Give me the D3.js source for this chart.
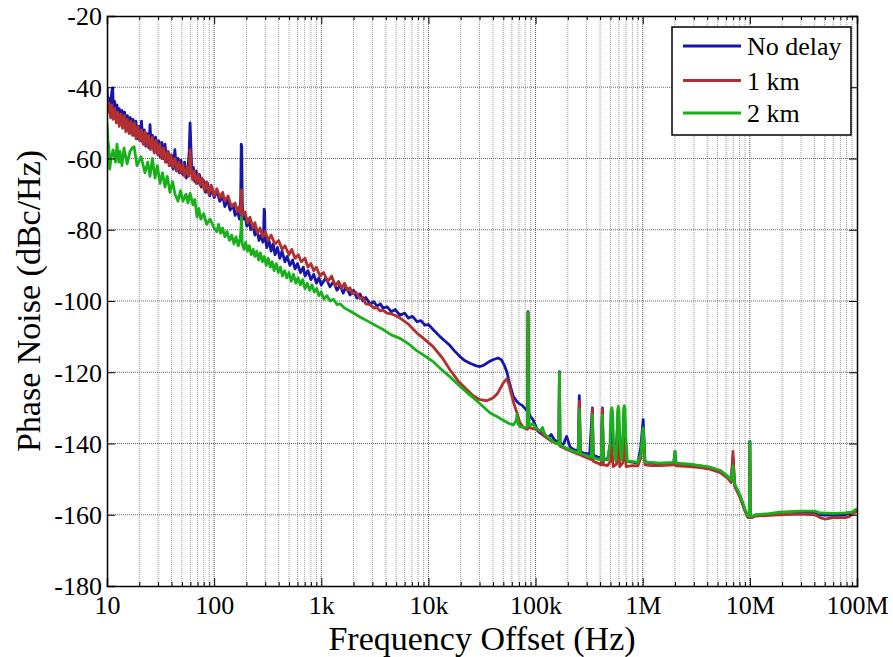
<!DOCTYPE html>
<html><head><meta charset="utf-8">
<script src="https://cdn.jsdelivr.net/npm/d3@7"></script>
<style>body{margin:0;background:#fff}</style>
</head><body>
<svg id="c" width="893" height="657"></svg>
<script>
const seriesNames = ["No delay", "1 km", "2 km"];
const seriesColors = ["#1616aa", "#b33030", "#19b019"];
const yTickValues = [-20, -40, -60, -80, -100, -120, -140, -160, -180];
const xTickValues = [10, 100, 1e3, 1e4, 1e5, 1e6, 1e7, 1e8];
const xTickLabels = ["10", "100", "1k", "10k", "100k", "1M", "10M", "100M"];
const xLabel = "Frequency Offset (Hz)";
const yLabel = "Phase Noise (dBc/Hz)";

// [frequency Hz, dBc/Hz]
const noDelay = [
[10,-40],[10.2,-46],[10.4,-43],[10.6,-47],[10.9,-44],[11.1,-41],[11.3,-40.2],[11.5,-47],[11.8,-44],[12.1,-48.5],[12.4,-45],[12.7,-49],[13.0,-46],[13.4,-50],[13.8,-46.5],[14.2,-50.5],[14.6,-47],[15.0,-51.5],[15.5,-48],[16.0,-52],[16.5,-48.5],[17.0,-53],[17.5,-49],[18.0,-53.5],[18.6,-49.5],[19.2,-54.5],[19.8,-51],[20.5,-55],[21,-49.5],[21.6,-55.5],[22.3,-52],[23,-56.5],[23.8,-53],[24.6,-57],[25.2,-50.5],[25.8,-56],[26.6,-53.5],[27.5,-58],[28.4,-54],[29.4,-58.5],[30.4,-55],[31.4,-59.5],[32.5,-55.5],[33.6,-60],[34.8,-56],[36,-61],[37.2,-58],[38.5,-62],[40,-59],[41.5,-63],[43,-57.5],[44.5,-63.5],[46,-60],[47.5,-64],[49,-60.5],[51,-64.5],[53,-61],[55,-65.5],[57,-63],[58.5,-58],[59.6,-50],[60.6,-56],[62,-64],[64,-62.5],[66,-66.5],[68,-63.5],[70,-67],[73,-64.5],[76,-68],[79,-66],[83,-69.5],[87,-67],[91,-70.5],[95,-68],[100,-71],
[106,-69],[113,-72],[120,-70.5],[126,-73.5],[133,-71.5],[141,-74.5],[150,-73],[157,-76],[165,-74.5],[172,-77],[177,-71],[179,-56],[181,-56.5],[183,-72],[187,-77],[194,-76],[202,-79],[210,-77],[220,-80],[230,-78.5],[240,-81.5],[252,-80],[262,-83],[275,-81.5],[285,-83.5],[290,-80],[293,-74.2],[296,-75],[299,-82],[310,-85],[325,-83],[340,-86],[355,-84],[370,-87],[390,-85],[410,-88],[430,-86],[458,-89],[480,-87.5],[510,-90],[540,-88.5],[569,-91],[600,-89.5],[640,-92],[680,-90.5],[705,-93],[750,-91.5],[800,-94],[850,-92.5],[900,-95],[950,-93.5],[1000,-95.5],
[1100,-93.5],[1205,-96],[1300,-94.5],[1400,-97],[1495,-95.5],[1600,-97.8],[1700,-96],[1853,-98.3],[2000,-97],[2150,-99.2],[2297,-98],[2450,-100],[2600,-99],[2850,-100.8],[3100,-100.2],[3300,-101.5],[3550,-100.8],[3770,-102],[4100,-101.6],[4500,-103],[4900,-102.4],[5430,-104],[6000,-103.4],[6500,-104.8],[7100,-104.3],[7820,-105.8],[8500,-105.5],[9300,-106.8],[10000,-106.6],[11040,-108],[12830,-110],[14000,-111],[15890,-112.5],[17500,-114],[19700,-115.6],[22000,-116.8],[25000,-117.6],[28000,-118.2],[30300,-118.4],[33000,-118],[36000,-117.2],[40000,-116.5],[44600,-116],[48000,-116.5],[51000,-118],[54100,-120],[57000,-123],[61500,-126.5],[66000,-128],[70000,-128.8],[75000,-129.3],[80000,-130.2],[84000,-131],[85000,-103],[86500,-131.5],[90000,-132.5],[94600,-133.3],[100000,-135],[105000,-136.5],[110000,-137],[116000,-137.5],[122000,-138],[130000,-138.5],[140000,-137.5],[150000,-139],[160000,-139.5],[165000,-139.5],[167000,-119.8],[169000,-139.8],[180000,-140.5],[195000,-138],[210000,-141],[230000,-141.8],[250000,-142],[256000,-126.6],[262000,-142.3],[290000,-142.8],[320000,-143],[339000,-130],[345000,-143.2],[380000,-143.8],[410000,-144],[420000,-130],[430000,-144.2],[470000,-144.5],[500000,-140],[514000,-131],[530000,-142],[570000,-140],[592000,-131],[610000,-143],[650000,-140],[673000,-131],[700000,-145],[800000,-145.2],[900000,-145.5],[960000,-141],[1010000,-133.3],[1050000,-145],[1200000,-145.5],[1450000,-145.8],[1700000,-145.6],[1950000,-145.5],[2000000,-142.2],[2050000,-145.8],[2760000,-146],[3420000,-146.3],[4250000,-146.8],[5270000,-147.8],[6120000,-149.2],[6700000,-150.5],[6960000,-144],[7200000,-151.5],[8100000,-154.8],[9000000,-158.6],[9600000,-160.5],[9900000,-160.5],[10000000,-139.4],[10100000,-160.5],[10500000,-160.7],[11200000,-160.2],[15000000,-160],[19100000,-159.8],[29300000,-159.5],[40500000,-159.5],[45200000,-160],[60000000,-160.2],[77300000,-160],[90000000,-159.5],[100000000,-158.8]
];

const oneKm = [
[10,-42],[10.2,-47],[10.5,-44.5],[10.8,-48.5],[11.1,-45],[11.4,-49],[11.8,-46],[12.2,-50],[12.6,-47],[13.0,-51],[13.5,-47.5],[14.0,-51.5],[14.5,-48],[15.0,-52.5],[15.5,-49],[16.1,-53],[16.7,-49.5],[17.3,-53.5],[18.0,-50],[18.7,-54.5],[19.4,-51],[20.2,-55],[21,-52],[21.8,-56],[22.7,-52.5],[23.6,-56.5],[24.5,-53.5],[25.5,-57.5],[26.5,-54],[27.6,-58.5],[28.7,-55],[29.9,-59],[31.1,-56],[32.4,-60],[33.7,-57],[35,-61],[36.5,-58],[38,-62],[39.5,-59],[41,-62.5],[43,-60],[45,-63.5],[47,-61],[49,-64],[51,-61.5],[53,-65],[55.5,-62.5],[58,-65],[59.6,-57.6],[61,-63],[63,-66],[65.5,-63.5],[68,-67],[71,-64.5],[74,-67.5],[77,-65.5],[81,-69],[85,-66.5],[89,-70],[94,-67.5],[100,-70.5],
[106,-68.5],[113.5,-71],[120,-69.5],[126,-72],[135,-70.5],[145,-73.5],[157,-72.5],[165,-75],[172,-73.5],[177,-75.5],[179,-68.8],[181,-69],[183,-76],[194,-75],[205,-78],[216,-76.5],[230,-79.5],[240,-78],[255,-81],[268,-79.5],[285,-82],[300,-80.5],[320,-83],[340,-81.5],[370,-84],[400,-83],[430,-85.5],[458,-84.5],[500,-87],[530,-85.5],[569,-88],[610,-87],[650,-89],[705,-88],[750,-90.5],[800,-89.5],[850,-91.5],[900,-90.5],[973,-93],
[1050,-92],[1150,-94.5],[1250,-93],[1350,-95.8],[1450,-94.5],[1550,-96.5],[1650,-95],[1750,-97],[1853,-96.3],[1950,-98],[2100,-97.5],[2297,-99.3],[2450,-99],[2600,-100.8],[2850,-101],[3100,-102],[3300,-101.8],[3550,-102.8],[3770,-102.6],[4100,-103.4],[4500,-103.6],[5000,-104.2],[5430,-104.8],[6500,-106.5],[7820,-109],[9000,-110.5],[11040,-112.8],[13500,-116],[15890,-119.3],[19000,-122.5],[22900,-124.9],[26000,-126.5],[30300,-127.7],[35000,-128],[40000,-127.2],[44000,-126],[47000,-124.5],[50000,-123],[54100,-121.8],[56500,-123.5],[59000,-125.8],[63000,-129],[67100,-131.4],[71000,-134],[76000,-135.3],[80000,-135.8],[84000,-136],[85000,-103.2],[86500,-135.5],[94600,-135.8],[100000,-136],[110000,-136.5],[122000,-138],[135000,-139],[150000,-139.8],[165000,-140.3],[167000,-120.2],[169000,-140.8],[190000,-141.5],[210000,-142],[240000,-142.8],[250000,-143],[256000,-128.2],[262000,-143.2],[300000,-144],[330000,-144.5],[339000,-130.3],[345000,-145],[380000,-145.5],[410000,-146],[420000,-130.2],[430000,-146],[470000,-146.2],[500000,-145],[514000,-140.5],[530000,-146.5],[570000,-145.8],[592000,-139],[610000,-146.5],[650000,-145.5],[673000,-139.5],[700000,-146.5],[800000,-146.2],[900000,-146.3],[960000,-144],[1010000,-136],[1050000,-146],[1200000,-146.2],[1450000,-146.2],[1950000,-146],[2000000,-144.5],[2050000,-146.3],[2760000,-146.5],[3420000,-146.8],[4250000,-147.2],[5270000,-148.2],[6120000,-149.6],[6700000,-151],[6960000,-142.2],[7200000,-152],[8100000,-155.2],[9000000,-159],[9600000,-160.8],[9900000,-160.8],[10000000,-140],[10100000,-160.8],[10500000,-160.8],[11200000,-160.4],[15000000,-160.2],[19100000,-160],[29300000,-159.8],[40500000,-160],[45200000,-160.8],[50000000,-161.2],[60000000,-160.8],[77300000,-160.8],[85000000,-160.5],[90000000,-159.8],[100000000,-159]
];

const twoKm = [
[10,-50],[10.2,-55],[10.4,-56.7],[10.6,-63],[10.9,-60],[11.4,-57.6],[12.0,-61],[12.4,-56],[12.9,-61],[13.2,-58],[13.8,-62],[14.4,-57],[15.4,-61.5],[16.4,-58],[17.2,-57],[17.9,-56.7],[19.05,-62],[20.8,-59.5],[22.6,-64],[24,-61],[25.2,-65],[26.5,-60],[28.1,-65.5],[29.5,-62],[31.3,-67],[33,-64],[34.8,-68],[36.5,-65],[38.7,-69.5],[41,-66.5],[43.1,-70],[46,-72],[48.5,-69],[51.2,-72],[54.6,-70],[57,-72.5],[59.6,-69.8],[61,-71],[63.5,-73],[66,-71.5],[69.2,-76.4],[72,-74],[75,-77],[80,-75.5],[85,-78.5],[91.5,-77],[100,-79.5],
[106,-80.5],[110,-78.5],[115,-81],[120,-79.5],[126,-82],[132,-80.5],[139,-83],[146,-81.5],[153,-84],[160,-82],[168,-84.5],[175,-82.5],[178,-80],[179.5,-76.4],[181,-78],[183,-84],[190,-85.5],[197,-83.5],[205,-86],[213,-84.5],[222,-87],[231,-85.5],[240,-87.5],[250,-86],[260,-88.5],[270,-86.5],[282,-89],[294,-87.5],[306,-90],[320,-88],[334,-90.5],[348,-89],[363,-91.5],[380,-89.5],[397,-92],[415,-90.5],[434,-93],[455,-91.5],[476,-93.5],[500,-92],[524,-94.5],[550,-92.5],[578,-95],[607,-93.5],[638,-95.5],[670,-94],[705,-96.5],[740,-95],[780,-97],[820,-95.5],[860,-97.5],[905,-96.5],[950,-98.5],[1000,-97.5],[1060,-99.5],[1130,-98.5],[1205,-100],[1300,-99.5],[1400,-101],[1495,-100.8],[1650,-102],[1853,-102.8],[2297,-104.5],[2850,-106],[3770,-108],[4500,-109.5],[5430,-110.5],[6500,-112],[7820,-114],[9000,-115.2],[11040,-117],[13000,-119],[15890,-121.3],[19000,-123.5],[22900,-125.7],[27000,-127.5],[32300,-129.6],[38000,-131.5],[44000,-132.5],[50000,-133.5],[56000,-134.3],[62000,-134.8],[66000,-133.5],[67100,-131.8],[68500,-134.5],[72000,-135.3],[80000,-135.5],[84000,-135.3],[85000,-103.4],[86500,-135],[94600,-134.5],[100000,-135.5],[110000,-136.5],[116000,-135.5],[122000,-137.5],[135000,-138.5],[150000,-139.8],[160000,-140],[165000,-140],[167000,-120],[169000,-140.5],[190000,-141.2],[210000,-141.8],[240000,-142.5],[250000,-142.6],[256000,-130.5],[262000,-142.8],[300000,-143.4],[330000,-143.8],[339000,-132],[345000,-144],[380000,-144.4],[410000,-144.6],[420000,-132],[430000,-144.6],[470000,-144.6],[495000,-140],[505000,-131],[514000,-130],[523000,-131],[535000,-140],[560000,-144.8],[575000,-139],[584000,-130.5],[592000,-129.6],[600000,-130.5],[612000,-139],[635000,-144.5],[655000,-138],[664000,-130.2],[673000,-129.4],[682000,-130.2],[695000,-138],[720000,-145],[800000,-145],[900000,-145.3],[960000,-143],[1010000,-135.6],[1050000,-145.2],[1200000,-145.3],[1450000,-145.5],[1700000,-145.4],[1950000,-145.3],[2000000,-142.2],[2050000,-145.5],[2760000,-145.8],[3420000,-146.2],[4250000,-146.6],[5270000,-147.5],[6120000,-149],[6700000,-150.3],[6960000,-146.3],[7200000,-151.3],[8100000,-154.5],[9000000,-158.4],[9600000,-160.3],[9900000,-160.3],[10000000,-139.4],[10100000,-160.3],[10500000,-160.5],[11200000,-160],[15000000,-159.7],[19100000,-159.3],[29300000,-159],[40500000,-159],[45200000,-159.5],[60000000,-159.6],[77300000,-159.5],[90000000,-159.2],[100000000,-158.3]
];

const allSeries = [noDelay, oneKm, twoKm];

const svg = d3.select("#c");
const L = 107, R = 857, T = 16, B = 586;
const x = d3.scaleLog().domain([10, 1e8]).range([L, R]);
const y = d3.scaleLinear().domain([-180, -20]).range([B, T]);
const font = "'Liberation Serif','Times New Roman',serif";

const minorX = [];
for (let e = 1; e < 8; e++) for (let k = 2; k <= 9; k++) minorX.push(k * Math.pow(10, e));

const grid = svg.append("g");
grid.selectAll("line.mx").data(minorX).join("line")
  .attr("x1", d => x(d)).attr("x2", d => x(d)).attr("y1", T).attr("y2", B)
  .attr("stroke", "#9a9a9a").attr("stroke-width", 1).attr("stroke-dasharray", "1,1");
grid.selectAll("line.Mx").data(xTickValues.slice(1, -1)).join("line")
  .attr("x1", d => x(d)).attr("x2", d => x(d)).attr("y1", T).attr("y2", B)
  .attr("stroke", "#555").attr("stroke-width", 1).attr("stroke-dasharray", "1,1");
grid.selectAll("line.My").data(yTickValues.slice(1, -1)).join("line")
  .attr("x1", L).attr("x2", R).attr("y1", d => y(d)).attr("y2", d => y(d))
  .attr("stroke", "#666").attr("stroke-width", 1).attr("stroke-dasharray", "1,1");

svg.append("clipPath").attr("id", "clip").append("rect")
  .attr("x", L).attr("y", T).attr("width", R - L).attr("height", B - T);

const line = d3.line().x(d => x(d[0])).y(d => y(d[1]));
const lines = svg.append("g").attr("clip-path", "url(#clip)");
allSeries.forEach((s, i) => {
  lines.append("path").datum(s).attr("d", line)
    .attr("fill", "none").attr("stroke", seriesColors[i])
    .attr("stroke-width", 2.8).attr("stroke-linejoin", "round");
});

const axB = d3.axisBottom(x).tickValues(xTickValues).tickFormat((d, i) => xTickLabels[i]).tickSize(-8).tickPadding(10);
const axT = d3.axisTop(x).tickValues(xTickValues).tickFormat("").tickSize(-8);
const axL = d3.axisLeft(y).tickValues(yTickValues).tickFormat(d => d).tickSize(-8).tickPadding(5);
const axR = d3.axisRight(y).tickValues(yTickValues).tickFormat("").tickSize(-8);
const gB = svg.append("g").attr("transform", `translate(0,${B})`).call(axB);
const gT = svg.append("g").attr("transform", `translate(0,${T})`).call(axT);
const gL = svg.append("g").attr("transform", `translate(${L},0)`).call(axL);
const gR = svg.append("g").attr("transform", `translate(${R},0)`).call(axR);
const mb = d3.axisBottom(x).tickValues(minorX).tickFormat("").tickSize(-4);
const mt = d3.axisTop(x).tickValues(minorX).tickFormat("").tickSize(-4);
svg.append("g").attr("transform", `translate(0,${B})`).call(mb).select(".domain").remove();
svg.append("g").attr("transform", `translate(0,${T})`).call(mt).select(".domain").remove();
svg.selectAll(".tick line").attr("stroke", "#000").attr("stroke-width", 1);
[gB, gT, gL, gR].forEach(g => g.select(".domain").attr("stroke", "#000").attr("stroke-width", 1.5));
gB.selectAll("text").attr("font-family", font).attr("font-size", 26).attr("fill", "#000");
gL.selectAll("text").attr("font-family", font).attr("font-size", 26).attr("fill", "#000").attr("dy", "0.34em");

svg.append("text").attr("x", (L + R) / 2).attr("y", 650).attr("text-anchor", "middle")
  .attr("font-family", font).attr("font-size", 34).text(xLabel);
svg.append("text").attr("transform", `translate(40,${(T + B) / 2}) rotate(-90)`).attr("text-anchor", "middle")
  .attr("font-family", font).attr("font-size", 34).text(yLabel);

const lg = svg.append("g");
lg.append("rect").attr("x", 672).attr("y", 27).attr("width", 179).attr("height", 108)
  .attr("fill", "#fff").attr("stroke", "#000").attr("stroke-width", 1.5);
const rowY = [46, 80.5, 113];
seriesNames.forEach((n, i) => {
  lg.append("line").attr("x1", 683).attr("x2", 741).attr("y1", rowY[i]).attr("y2", rowY[i])
    .attr("stroke", seriesColors[i]).attr("stroke-width", 2.8);
  lg.append("text").attr("x", 747).attr("y", rowY[i] + 9).attr("font-family", font)
    .attr("font-size", 26).text(n);
});
</script>
</body></html>
